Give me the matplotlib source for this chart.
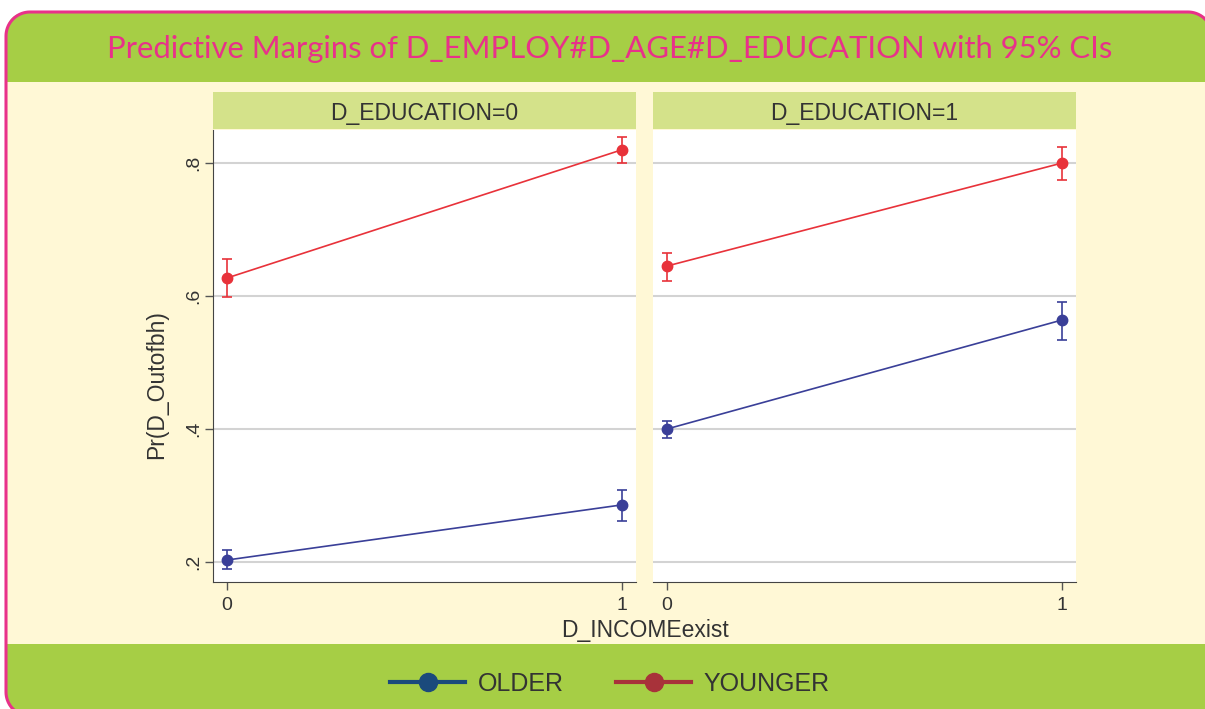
import numpy as np
import matplotlib
matplotlib.use("Agg")
import matplotlib.pyplot as plt
from matplotlib.patches import FancyBboxPatch, Rectangle, PathPatch
from matplotlib.path import Path
from matplotlib.lines import Line2D
from matplotlib.transforms import IdentityTransform

# data
income = [0, 1]
panels = ["D_EDUCATION=0", "D_EDUCATION=1"]
older_mean = [[0.203, 0.286], [0.400, 0.564]]
older_lo = [[0.190, 0.262], [0.386, 0.534]]
older_hi = [[0.218, 0.309], [0.412, 0.591]]
younger_mean = [[0.627, 0.820], [0.645, 0.800]]
younger_lo = [[0.599, 0.800], [0.623, 0.774]]
younger_hi = [[0.656, 0.839], [0.665, 0.824]]
yticks = [0.2, 0.4, 0.6, 0.8]
ytick_labels = [".2", ".4", ".6", ".8"]

W, H = 1205, 709
pink = "#E8318A"
green = "#A6CE45"
cream = "#FFF8D6"
strip_col = "#D4E28A"
txt = "#333333"
red = "#E8323A"
blue = "#3A3F98"

plt.rcParams['font.family'] = ['Liberation Sans', 'DejaVu Sans']
plt.rcParams['savefig.bbox'] = 'standard'

fig = plt.figure(figsize=(W / 100, H / 100), dpi=100, facecolor="white")
pix = IdentityTransform()  # display pixels, origin bottom-left

# rounded frame, right and bottom edges run off the canvas
fx0, fy_top, fx1, fy_bot, rad = 6, 12, 1212, 716, 24
frame = FancyBboxPatch((fx0, H - fy_bot), fx1 - fx0, fy_bot - fy_top,
                       boxstyle="round,pad=0,rounding_size=%d" % rad,
                       transform=pix, facecolor=cream,
                       edgecolor="none", zorder=0)
fig.patches.append(frame)
top_band = Rectangle((0, H - 82), W, 82, transform=pix,
                     facecolor=green, edgecolor="none", zorder=0.5)
top_band.set_clip_path(frame)
fig.patches.append(top_band)
bot_band = Rectangle((0, 0), W, H - 644, transform=pix,
                     facecolor=green, edgecolor="none", zorder=0.5)
bot_band.set_clip_path(frame)
fig.patches.append(bot_band)

# open outline of the frame (only the visible sides)
def arc(cx, cy, a0, a1):
    t = np.radians(np.linspace(a0, a1, 20))
    return np.column_stack([cx + rad * np.cos(t), cy + rad * np.sin(t)])

yb, yt = H - fy_bot, H - fy_top
outline = np.vstack([
    [[fx0 + rad + 40, yb]],
    arc(fx0 + rad, yb + rad, 270, 180),
    arc(fx0 + rad, yt - rad, 180, 90),
    arc(fx1 - rad, yt - rad, 90, 0),
    [[fx1, yb]],
])
border = PathPatch(Path(outline), transform=pix, facecolor="none",
                   edgecolor=pink, linewidth=2.2, zorder=1)
fig.patches.append(border)

fig.text(610 / W, 1 - 49 / H,
         "Predictive Margins of D_EMPLOY#D_AGE#D_EDUCATION with 95% CIs",
         ha="center", va="center", color=pink, fontsize=22.3,
         family=["Lato", "DejaVu Sans"], zorder=3)

lefts = [213, 653]
for i, left in enumerate(lefts):
    ax = fig.add_axes([left / W, (H - 582) / H, 423 / W, 452 / H])
    ax.set_zorder(2)
    ax.set_facecolor("white")
    ax.set_xlim(-0.035, 1.035)
    ax.set_ylim(0.170, 0.8496)
    ax.set_yticks(yticks)
    ax.grid(axis="y", color="#D3D3D3", linewidth=1.5)
    ax.set_axisbelow(True)
    for s in ["top", "right"]:
        ax.spines[s].set_visible(False)
    ax.spines["bottom"].set_color("#444444")
    ax.spines["left"].set_color("#444444")
    ax.set_xticks(income)
    ax.set_xticklabels(["0", "1"], fontsize=14, color=txt)
    ax.tick_params(axis="x", length=6, width=1, color="#555555", pad=5)
    if i == 0:
        ax.set_yticklabels(ytick_labels, fontsize=14, color=txt,
                           rotation=90, va="center")
        ax.tick_params(axis="y", length=6, width=1, color="#555555", pad=2)
    else:
        ax.spines["left"].set_visible(False)
        ax.tick_params(axis="y", length=0, labelleft=False)

    for mean, lo, hi, col in [(older_mean[i], older_lo[i], older_hi[i], blue),
                              (younger_mean[i], younger_lo[i], younger_hi[i], red)]:
        err = [[m - l for m, l in zip(mean, lo)], [h - m for m, h in zip(mean, hi)]]
        ax.errorbar(income, mean, yerr=err, color=col, marker="o",
                    markersize=7.5, linewidth=1.2, capsize=3.5,
                    elinewidth=1.2, capthick=1.2, clip_on=False)

    sax = fig.add_axes([left / W, (H - 129) / H, 423 / W, 37 / H])
    sax.set_zorder(2)
    sax.set_facecolor(strip_col)
    sax.set_xticks([])
    sax.set_yticks([])
    for s in sax.spines.values():
        s.set_visible(False)
    sax.text(0.5, 0.42, panels[i], ha="center", va="center",
             fontsize=16.5, color=txt, transform=sax.transAxes)

fig.text(645 / W, 1 - 630 / H, "D_INCOMEexist", ha="center", va="center",
         fontsize=16.5, color=txt, zorder=3)
fig.text(157 / W, 1 - 385 / H, "Pr(D_Outofbh)", ha="center", va="center",
         rotation=90, fontsize=16.5, color=txt, zorder=3)

handles = [Line2D([], [], color="#1B4A7C", marker="o", markersize=13,
                  linewidth=3),
           Line2D([], [], color="#A8323A", marker="o", markersize=13,
                  linewidth=3)]
leg = fig.legend(handles, ["OLDER", "YOUNGER"], loc="center",
                 bbox_to_anchor=(610 / W, 1 - 684 / H), ncol=2, frameon=False,
                 fontsize=18, handlelength=3.0, handletextpad=0.5,
                 columnspacing=2.1, labelcolor=txt)
leg.set_zorder(3)

fig.savefig("out.png", dpi=100, facecolor="white", bbox_inches=None)
